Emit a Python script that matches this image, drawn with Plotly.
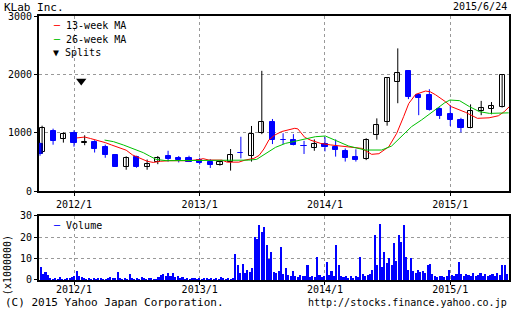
import numpy as np
import pandas as pd
import plotly.graph_objects as go

# ---------------- data ----------------
candle_dates = ['2011-09-24', '2011-09-30', '2011-11-01', '2011-12-01',
                '2012-01-01', '2012-02-01', '2012-03-01', '2012-04-01', '2012-05-01', '2012-06-01',
                '2012-07-01', '2012-08-01', '2012-09-01', '2012-10-01', '2012-11-01', '2012-12-01',
                '2013-01-01', '2013-02-01', '2013-03-01', '2013-04-01', '2013-05-01', '2013-06-01',
                '2013-07-01', '2013-08-01', '2013-09-01', '2013-10-01', '2013-11-01', '2013-12-01',
                '2014-01-01', '2014-02-01', '2014-03-01', '2014-04-01', '2014-05-01', '2014-06-01',
                '2014-07-01', '2014-08-01', '2014-09-01', '2014-10-01', '2014-11-01', '2014-12-01',
                '2015-01-01', '2015-02-01', '2015-03-01', '2015-04-01', '2015-05-01', '2015-06-01']
open_ = [800, 674, 1034, 900, 990, 830, 840, 750, 610, 410, 585, 420, 490, 600, 570, 570,
         530, 505, 440, 490, 655, 600, 1000, 1180, 880, 875, 775, 735, 800, 750, 685, 590,
         545, 960, 1180, 1865, 2055, 1645, 1645, 1400, 1320, 1215, 1075, 1375, 1405, 1445]
high = [830, 1120, 1069, 1005, 1040, 955, 870, 795, 630, 595, 605, 540, 600, 690, 600, 605,
        570, 545, 520, 720, 930, 1115, 2060, 1235, 990, 975, 860, 885, 925, 885, 730, 715,
        905, 1245, 1945, 2445, 2060, 1675, 1745, 1435, 1475, 1255, 1485, 1545, 1525, 2000]
low = [605, 646, 794, 830, 760, 785, 660, 570, 415, 365, 400, 365, 460, 505, 490, 497,
       455, 395, 435, 350, 560, 505, 975, 805, 805, 783, 635, 690, 680, 590, 505, 505,
       530, 880, 1120, 1505, 1575, 1300, 1380, 1235, 1115, 1005, 1075, 1300, 1315, 1430]
close = [640, 1075, 862, 970, 820, 835, 720, 610, 420, 565, 420, 470, 560, 548, 540, 500,
         485, 450, 500, 615, 645, 985, 1180, 875, 870, 785, 765, 800, 750, 705, 570, 530,
         875, 1140, 1930, 2015, 1620, 1600, 1390, 1290, 1220, 1075, 1375, 1430, 1450, 1990]

ma13_dates = ['2012-01-09', '2012-02-01', '2012-02-18', '2012-03-10', '2012-04-01', '2012-04-19',
              '2012-05-10', '2012-06-01', '2012-06-19', '2012-07-10', '2012-08-01', '2012-08-19',
              '2012-09-08', '2012-10-05', '2012-12-02', '2012-12-31', '2013-01-11', '2013-01-28',
              '2013-03-07', '2013-03-22', '2013-04-25', '2013-05-13', '2013-06-08', '2013-06-23',
              '2013-07-07', '2013-07-22', '2013-08-08', '2013-08-28', '2013-09-18', '2013-10-05',
              '2013-10-14', '2013-10-23', '2013-11-03', '2013-11-21', '2013-12-20', '2014-01-18',
              '2014-02-25', '2014-03-26', '2014-04-18', '2014-05-17', '2014-06-07', '2014-07-06',
              '2014-07-29', '2014-08-18', '2014-09-02', '2014-09-22', '2014-10-21', '2014-11-04',
              '2014-11-19', '2014-12-18', '2015-01-04', '2015-02-14', '2015-03-21', '2015-04-24',
              '2015-05-21', '2015-06-07', '2015-06-22']
ma13_values = [910, 925, 900, 870, 830, 790, 750, 700, 620, 560, 510, 490,
               510, 520, 520, 540, 555, 531, 530, 495, 495, 530, 560, 610,
               720, 880, 960, 1020, 1055, 1075, 1065, 1000, 920, 870, 815, 790,
               770, 750, 731, 629, 640, 760, 990, 1274, 1500, 1657, 1714, 1700,
               1650, 1531, 1446, 1350, 1246, 1255, 1290, 1360, 1446]

ma26_dates = ['2012-03-30', '2012-04-25', '2012-05-24', '2012-06-20', '2012-07-21', '2012-08-08',
              '2012-08-27', '2012-09-25', '2012-12-31', '2013-04-25', '2013-05-24', '2013-06-16',
              '2013-07-12', '2013-08-10', '2013-09-08', '2013-10-07', '2013-11-05', '2013-12-04',
              '2014-01-02', '2014-01-31', '2014-03-11', '2014-04-28', '2014-06-15', '2014-07-14',
              '2014-08-12', '2014-09-10', '2014-10-09', '2014-11-17', '2014-12-16', '2014-12-31',
              '2015-01-28', '2015-02-26', '2015-03-27', '2015-04-25', '2015-06-20']
ma26_values = [874, 846, 789, 731, 657, 600, 543, 520, 520, 520, 530, 543,
               646, 749, 817, 857, 903, 931, 943, 874, 771, 703, 703, 771,
               931, 1103, 1217, 1389, 1514, 1560, 1549, 1446, 1360, 1331, 1340]

split_dates = ['2012-01-22']
split_level = [1886]

volume_start = '2011-09-26'
volume_millions = [
    6.2, 3.0, 3.8, 2.5, 1.2,
    0.8, 1.0, 0.7, 1.5, 0.8, 0.6, 1.2, 0.9, 1.4,
    1.8, 4.2, 2.2, 1.5,
    1.0, 0.8, 1.2, 0.7, 1.0, 0.6, 0.9, 1.3, 0.7, 0.8, 1.0, 1.6, 0.9,
    1.0, 3.8, 1.2,
    0.8, 1.0, 0.7,
    2.8,
    1.0, 0.8, 1.2, 0.7, 1.4, 0.9, 0.6, 1.0, 1.3, 0.8, 0.7, 1.5,
    2.5, 3.0, 1.8, 3.3, 2.0, 3.4, 1.5, 2.2,
    1.0, 1.5, 0.8, 1.2, 0.7, 1.0, 1.3,
    0.8, 1.0, 0.7, 1.2, 0.9, 0.6, 1.0, 0.8, 1.1, 0.7, 1.4, 0.9, 0.8, 1.2, 0.7, 1.0,
    12.5, 7.0, 3.5, 7.7, 3.5, 5.0, 4.0, 5.6,
    20.0, 19.5, 25.7, 22.6, 24.8, 16.4, 10.0, 13.3,
    4.0, 3.5, 4.5, 15.6, 3.0, 5.7, 2.5, 2.0,
    4.5, 2.0, 1.5, 2.5, 1.8, 2.2, 7.1, 1.5,
    2.0, 1.6, 11.0, 2.5, 1.5, 2.0, 8.7, 2.5,
    4.5, 2.0, 16.4, 7.0, 2.0, 1.5, 2.0, 1.2,
    1.8, 1.3, 2.0, 1.5, 11.0, 3.0, 2.0, 2.5,
    3.0, 5.0, 21.0, 7.0, 26.5, 6.0, 13.3, 8.0,
    10.2, 7.0, 17.2, 9.0, 21.0, 17.8, 25.7, 11.0,
    5.0, 10.2, 4.5, 3.5, 5.0, 4.0, 4.5, 3.5,
    7.0, 7.5, 3.0, 2.0, 1.5, 2.0, 1.8, 1.5,
    2.0, 4.8, 2.5, 2.0, 3.0, 8.7, 3.0, 2.0,
    3.0, 2.5, 2.0, 3.5, 2.0, 2.5, 3.5, 2.0,
    3.0, 2.0, 2.5, 3.0, 2.0, 3.5, 2.5, 7.1,
    7.0, 3.0]

year_ticks = ['2012-01-01', '2013-01-01', '2014-01-01', '2015-01-01']
year_labels = ['2012/1', '2013/1', '2014/1', '2015/1']
price_ticks = [0, 1000, 2000, 3000]
volume_ticks = [0, 10, 20, 30]

# ---------------- styles ----------------
BLUE = '#0000ff'
RED = '#ff0000'
GREEN = '#00c000'
MONO = 'DejaVu Sans Mono'
DAY_MS = 86400000

d = pd.to_datetime(candle_dates)
o = np.array(open_, float)
h = np.array(high, float)
l = np.array(low, float)
c = np.array(close, float)
up = c >= o
base = np.minimum(o, c)
height = np.maximum(np.abs(c - o), 4)

fig = go.Figure()

def wick_xy(mask):
    xs, ys = [], []
    for di, lo, hi in zip(d[mask], l[mask], h[mask]):
        xs += [di, di, None]
        ys += [lo, hi, None]
    return xs, ys

for mask, col in [(up, 'black'), (~up, BLUE)]:
    wx, wy = wick_xy(mask)
    fig.add_trace(go.Scatter(x=wx, y=wy, mode='lines', line=dict(color=col, width=1),
                             xaxis='x', yaxis='y', hoverinfo='skip'))

fig.add_trace(go.Bar(x=d[up], y=height[up], base=base[up], width=15 * DAY_MS,
                     marker=dict(color='white', line=dict(color='black', width=1)),
                     xaxis='x', yaxis='y'))
fig.add_trace(go.Bar(x=d[~up], y=height[~up], base=base[~up], width=15 * DAY_MS,
                     marker=dict(color=BLUE, line=dict(color=BLUE, width=1)),
                     xaxis='x', yaxis='y'))

fig.add_trace(go.Scatter(x=ma13_dates, y=ma13_values, mode='lines',
                         line=dict(color=RED, width=1), xaxis='x', yaxis='y'))
fig.add_trace(go.Scatter(x=ma26_dates, y=ma26_values, mode='lines',
                         line=dict(color=GREEN, width=1), xaxis='x', yaxis='y'))
fig.add_trace(go.Scatter(x=split_dates, y=split_level, mode='markers',
                         marker=dict(symbol='triangle-down', size=9, color='black'),
                         xaxis='x', yaxis='y'))

vol_dates = pd.date_range(volume_start, periods=len(volume_millions), freq='7D')
fig.add_trace(go.Bar(x=vol_dates, y=volume_millions, width=6 * DAY_MS,
                     marker=dict(color=BLUE, line=dict(width=0)),
                     xaxis='x2', yaxis='y2'))

axis_style = dict(showline=True, linecolor='black', linewidth=2, mirror=True,
                  ticks='outside', ticklen=3, tickcolor='black', tickwidth=1,
                  showgrid=True, gridcolor='#999999', griddash='3px,3px', gridwidth=1,
                  zeroline=False, tickfont=dict(family=MONO, size=10, color='black'))
xrange = ['2011-09-21', '2015-06-21']

fig.update_layout(
    width=512, height=310,
    margin=dict(l=39, r=1, t=16, b=30),
    paper_bgcolor='white', plot_bgcolor='white',
    showlegend=False, barmode='overlay', bargap=0,
    font=dict(family=MONO, size=10, color='black'),
    xaxis=dict(domain=[0, 1], anchor='y', type='date', range=xrange,
               tickvals=year_ticks, ticktext=year_labels, **axis_style),
    yaxis=dict(domain=[0.337, 1], anchor='x', range=[0, 3000], tickvals=price_ticks, **axis_style),
    xaxis2=dict(domain=[0, 1], anchor='y2', type='date', range=xrange, matches='x',
                tickvals=year_ticks, ticktext=year_labels, ticklabelstandoff=-4, **axis_style),
    yaxis2=dict(domain=[0, 0.2436], anchor='x2', range=[0, 30], tickvals=volume_ticks, **axis_style),
)

def ann(text, x, y, xanchor='left', size=10, angle=0, yanchor='middle', pad=1):
    fig.add_annotation(text=text, x=x, y=y, xref='paper', yref='paper', xanchor=xanchor,
                       yanchor=yanchor, showarrow=False, textangle=angle, borderpad=pad,
                       font=dict(family=MONO, size=size, color='black'))

ann('KLab Inc.', -0.0763, 1.0606, size=11, yanchor='top', pad=0)
ann('2015/6/24', 0.998, 1.0606, xanchor='right', yanchor='top', pad=0)
ann(f'<span style="color:{RED}">─</span> 13-week MA', 0.0248, 0.9633)
ann(f'<span style="color:{GREEN}">─</span> 26-week MA', 0.0248, 0.9117)
ann('▼ Splits', 0.0248, 0.8625)
ann(f'<span style="color:{BLUE}">─</span> Volume', 0.0248, 0.2072)
ann('(x1000000)', -0.0678, 0.0568, xanchor='center', angle=-90)
ann('(C) 2015 Yahoo Japan Corporation.', -0.0763, -0.0871, size=11)
ann('http://stocks.finance.yahoo.co.jp', 1.0, -0.0871, xanchor='right')

fig.write_html('out.html')
